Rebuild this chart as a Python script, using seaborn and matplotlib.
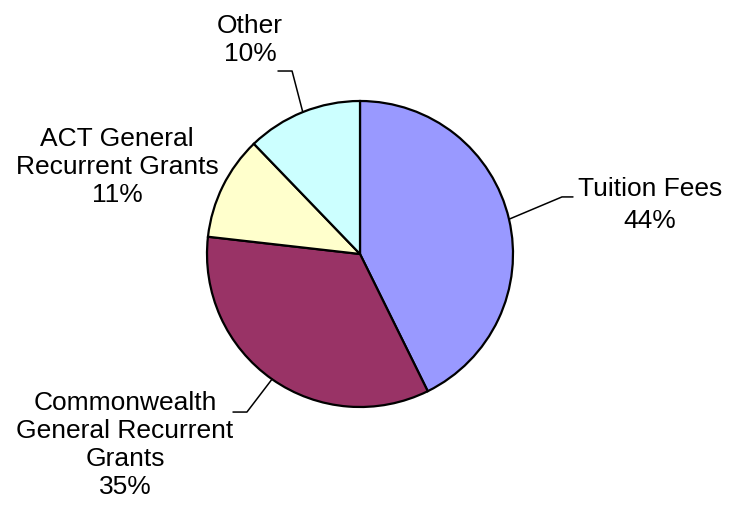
import numpy as np
import seaborn as sns
import matplotlib.pyplot as plt

sns.set_theme(style="white")
plt.rcParams['font.family'] = ['Liberation Sans', 'DejaVu Sans']

# slice sizes as drawn, and the percent text shown on the labels
categories = ["Tuition Fees", "Commonwealth\nGeneral Recurrent\nGrants",
              "ACT General\nRecurrent Grants", "Other"]
shares = [42.7, 34.1, 11.0, 12.2]
pct_labels = ["44%", "35%", "11%", "10%"]
colors = ["#9999FF", "#993366", "#FFFFCC", "#CCFFFF"]

W, H = 730, 508
fig = plt.figure(figsize=(W / 100, H / 100), dpi=100)
cx, cy, r = 360, 254, 153
ax = fig.add_axes([(cx - r) / W, (H - cy - r) / H, 2 * r / W, 2 * r / H])

wedges, _ = ax.pie(shares, colors=colors, startangle=90, counterclock=False,
                   wedgeprops=dict(edgecolor="black", linewidth=1.6))
ax.set_xlim(-1, 1)
ax.set_ylim(-1, 1)
ax.set_aspect("equal")
ax.axis("off")

# text placement (data units, radius = 1) and leader line elbows
text_pos = [(1.895, 0.32), (-1.536, -1.248), (-1.588, 0.569), (-0.719, 1.399)]
elbows = [[(1.32, 0.373), (1.392, 0.373)],
          [(-0.739, -1.033), (-0.830, -1.033)],
          None,
          [(-0.444, 1.196), (-0.536, 1.196)]]
spacing = [1.45, 1.21, 1.22, 1.22]

for w, cat, pct, tp, el, ls in zip(wedges, categories, pct_labels, text_pos, elbows, spacing):
    ax.text(tp[0], tp[1], cat + "\n" + pct, ha="center", va="center",
            multialignment="center", fontsize=19, color="black", linespacing=ls,
            clip_on=False)
    if el is not None:
        mid = np.deg2rad((w.theta1 + w.theta2) / 2)
        xs = [np.cos(mid), el[0][0], el[1][0]]
        ys = [np.sin(mid), el[0][1], el[1][1]]
        ax.plot(xs, ys, color="black", lw=1.1, clip_on=False)

fig.savefig("out.png", dpi=100)
